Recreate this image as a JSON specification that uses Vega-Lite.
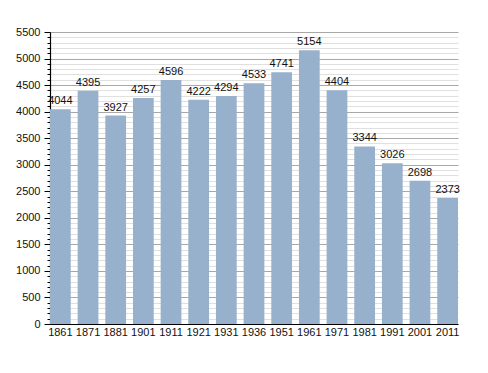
{
  "$schema": "https://vega.github.io/schema/vega-lite/v6.json",
  "width": 408,
  "height": 292,
  "autosize": "none",
  "padding": {"left": 50, "top": 32, "right": 30, "bottom": 49},
  "background": "white",
  "config": {
    "view": {"stroke": null},
    "font": "Liberation Sans",
    "axis": {"labelFont": "Liberation Sans", "labelFontSize": 11, "labelColor": "#111"}
  },
  "data": {
    "values": [
      {"year": "1861", "pop": 4044},
      {"year": "1871", "pop": 4395},
      {"year": "1881", "pop": 3927},
      {"year": "1901", "pop": 4257},
      {"year": "1911", "pop": 4596},
      {"year": "1921", "pop": 4222},
      {"year": "1931", "pop": 4294},
      {"year": "1936", "pop": 4533},
      {"year": "1951", "pop": 4741},
      {"year": "1961", "pop": 5154},
      {"year": "1971", "pop": 4404},
      {"year": "1981", "pop": 3344},
      {"year": "1991", "pop": 3026},
      {"year": "2001", "pop": 2698},
      {"year": "2011", "pop": 2373}
    ]
  },
  "encoding": {
    "x": {
      "field": "year", "type": "nominal", "sort": null,
      "scale": {"paddingInner": 0.25, "paddingOuter": 0},
      "axis": {"title": null, "labelAngle": 0, "ticks": false, "domainColor": "#000", "domainWidth": 1.2, "labelPadding": 2, "grid": false}
    },
    "y": {
      "field": "pop", "type": "quantitative",
      "scale": {"domain": [0, 5500], "nice": false},
      "axis": {
        "title": null,
        "values": [0,100,200,300,400,500,600,700,800,900,1000,1100,1200,1300,1400,1500,1600,1700,1800,1900,2000,2100,2200,2300,2400,2500,2600,2700,2800,2900,3000,3100,3200,3300,3400,3500,3600,3700,3800,3900,4000,4100,4200,4300,4400,4500,4600,4700,4800,4900,5000,5100,5200,5300,5400,5500],
        "labelExpr": "datum.value % 500 === 0 ? datum.label : ''",
        "format": "d",
        "grid": true,
        "gridColor": {"condition": {"test": "datum.value % 500 === 0", "value": "#a8a8a8"}, "value": "#e0e0e0"},
        "tickColor": "#000",
        "tickSize": {"condition": {"test": "datum.value % 500 === 0", "value": 6}, "value": 3},
        "domainColor": "#000",
        "domainWidth": 1.2,
        "labelPadding": 4
      }
    }
  },
  "layer": [
    {"mark": {"type": "bar", "color": "#97b1cc"}},
    {"mark": {"type": "text", "baseline": "bottom", "dy": -3, "fontSize": 11, "color": "#111", "font": "Liberation Sans"},
     "encoding": {"text": {"field": "pop", "type": "quantitative", "format": "d"}}}
  ]
}
